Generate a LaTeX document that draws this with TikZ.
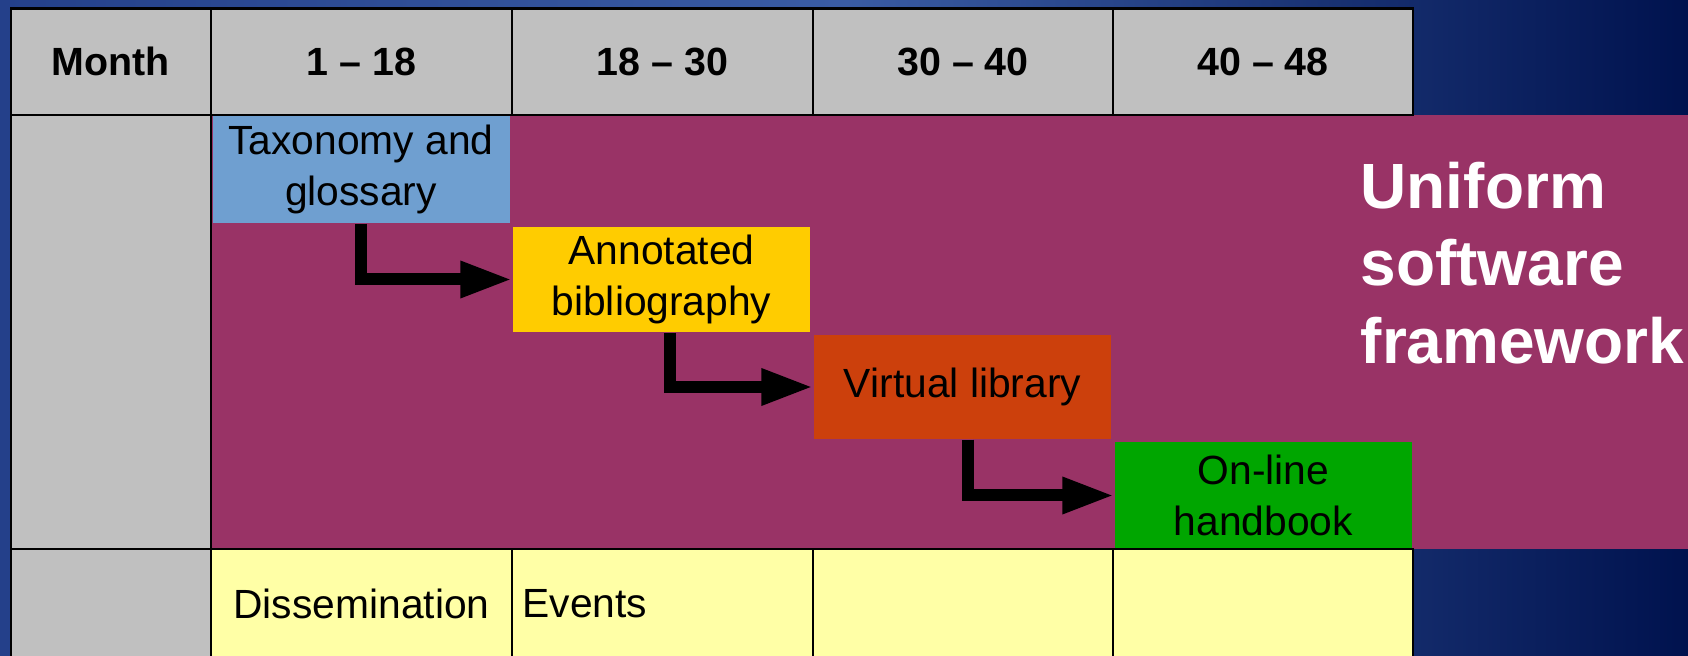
\documentclass[tikz,border=0pt]{standalone}
\usepackage{fontspec}
\setmainfont{Liberation Sans}
\usetikzlibrary{arrows.meta}
\definecolor{cellgrey}{HTML}{C0C0C0}
\definecolor{plum}{HTML}{993366}
\definecolor{paleyellow}{HTML}{FFFFA6}
\definecolor{taxblue}{HTML}{6F9FD0}
\definecolor{bibyellow}{HTML}{FFCC00}
\definecolor{libred}{HTML}{CC400C}
\definecolor{bookgreen}{HTML}{00A600}
\definecolor{bgleft}{HTML}{24408A}
\definecolor{bgmid}{HTML}{3A5CA4}
\definecolor{bgright}{HTML}{00124E}

\begin{document}
\begin{tikzpicture}
		\tikzset{grid/.style = {line width = 0.7pt, black},
			head/.style = {font = \fontsize{11.2}{13}\selectfont\bfseries},
			task/.style = {minimum width = 2.97cm, inner sep = 0pt, align = center, font = \fontsize{11.6}{14.7}\selectfont},
			flow/.style = {line width = 0.12cm, -{Triangle[length = 0.52cm, width = 0.34cm]}}}
		\useasboundingbox (0,0) rectangle (16.88,6.55);
		\shade[left color = bgleft, right color = bgright, middle color = bgmid] (0,0) rectangle (16.88,6.55);
		\fill[plum] (2.11,1.06) rectangle (16.88,5.40);
		\filldraw[grid, fill = cellgrey] (0.11,5.40) rectangle (14.13,6.464);
		\filldraw[grid, fill = cellgrey] (0.11,-0.1) rectangle (2.11,5.40);
		\filldraw[grid, fill = paleyellow] (2.11,-0.1) rectangle (14.13,1.06);
		\foreach \x in {5.12,8.13,11.13} {
			\draw[grid] (\x,5.40) -- (\x,6.464);
			\draw[grid] (\x,-0.1) -- (\x,1.06);
		}
		\node[head] (month) at (1.11,5.932) {Month};
		\node[head] (m1) at (3.615,5.932) {1 – 18};
		\node[head] (m2) at (6.625,5.932) {18 – 30};
		\node[head] (m3) at (9.63,5.932) {30 – 40};
		\node[head] (m4) at (12.63,5.932) {40 – 48};
		% work packages
		\node[task, fill = taxblue, minimum height = 1.07cm] (tax) at (3.61,4.855) {Taxonomy and\\glossary};
		\node[task, fill = bibyellow, minimum height = 1.05cm] (bib) at (6.615,3.755) {Annotated\\bibliography};
		\node[task, fill = libred, minimum height = 1.04cm] (lib) at (9.625,2.68) {Virtual library};
		\node[task, fill = bookgreen, minimum height = 1.07cm] (book) at (12.635,1.595) {On-line\\handbook};
		\draw[flow] (tax.south) |- (bib.west);
		\draw[flow] ([xshift = 0.08cm]bib.south) |- (lib.west);
		\draw[flow] ([xshift = 0.05cm]lib.south) |- (book.west);
		\node[anchor = west, align = left, inner sep = 0pt, text = white, font = \fontsize{18.2}{22}\selectfont\bfseries] (usf) at (13.60,3.92) {Uniform\\software\\framework};
		\node[font = \fontsize{11.6}{14.7}\selectfont] (diss) at (3.615,0.51) {Dissemination};
		\node[anchor = west, inner sep = 0pt, font = \fontsize{11.6}{14.7}\selectfont] (events) at (5.22,0.51) {Events};
		\draw[grid] (0.11,5.40) -- (14.13,5.40);
		\draw[grid] (0.11,1.06) -- (14.13,1.06);
		\draw[grid] (2.11,-0.1) -- (2.11,6.464);
	\end{tikzpicture}
\end{document}
